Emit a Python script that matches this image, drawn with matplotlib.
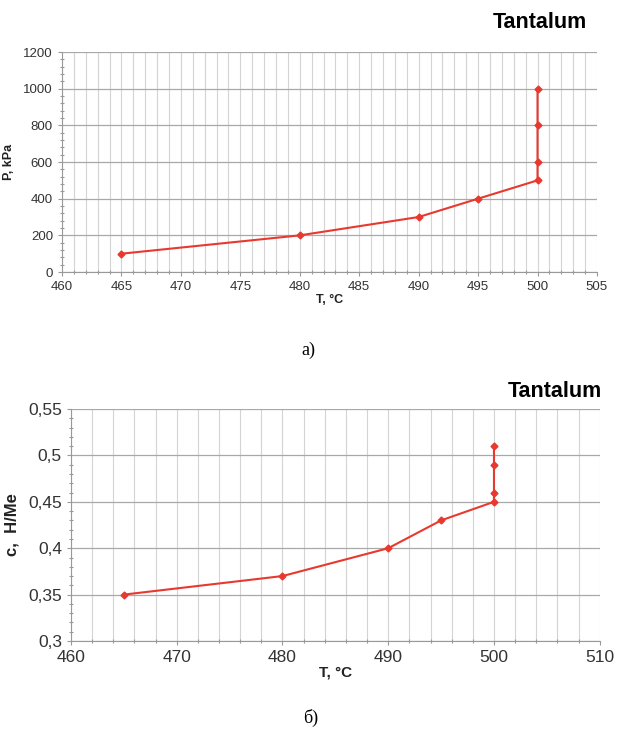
import numpy as np
import matplotlib
matplotlib.use("Agg")
import matplotlib.pyplot as plt
from matplotlib.ticker import MultipleLocator, FuncFormatter

plt.rcParams['font.family'] = ['Liberation Sans', 'DejaVu Sans']

# data
temp = [465, 480, 490, 495, 500, 500, 500, 500]
pressure = [100, 200, 300, 400, 500, 600, 800, 1000]
conc = [0.35, 0.37, 0.40, 0.43, 0.45, 0.46, 0.49, 0.51]

red = '#e8392f'
txt = '#333333'

fig = plt.figure(figsize=(6.17, 7.34), dpi=100)

# ---- a) pressure
ax1 = fig.add_axes([0.1005, 0.6294, 0.867, 0.2997])
ax1.plot(temp, pressure, color=red, lw=1.5, marker='D', ms=3.5, zorder=3)
ax1.set_xlim(460, 505)
ax1.set_ylim(0, 1200)
ax1.xaxis.set_major_locator(MultipleLocator(5))
ax1.xaxis.set_minor_locator(MultipleLocator(1))
ax1.yaxis.set_major_locator(MultipleLocator(200))
ax1.yaxis.set_minor_locator(MultipleLocator(40))
ax1.grid(which='major', axis='y', color='#a8a8a8', lw=0.9)
ax1.grid(which='both', axis='x', color='#d4d4d4', lw=0.8)
ax1.tick_params(which='both', length=3, color='#999999', labelsize=9.5, labelcolor=txt, width=0.8)
ax1.tick_params(which='minor', length=3, direction='inout')
for s in ['top', 'right']:
    ax1.spines[s].set_visible(False)
for s in ['left', 'bottom']:
    ax1.spines[s].set_color('#999999')
ax1.set_xlabel('T, °C', fontsize=9, fontweight='bold', labelpad=1, color='#222222')
ax1.set_ylabel('P, kPa', fontsize=9, fontweight='bold', labelpad=6, color='#222222')
fig.text(0.875, 0.970, 'Tantalum', fontsize=15.5, fontweight='bold', ha='center', va='center')
fig.text(0.5, 0.523, 'а)', fontsize=13, ha='center', va='center', family='Liberation Serif')

# ---- б) concentration
ax2 = fig.add_axes([0.115, 0.1267, 0.857, 0.316])
ax2.plot(temp, conc, color=red, lw=1.5, marker='D', ms=3.5, zorder=3)
ax2.set_xlim(460, 510)
ax2.set_ylim(0.3, 0.55)
ax2.xaxis.set_major_locator(MultipleLocator(10))
ax2.xaxis.set_minor_locator(MultipleLocator(2))
ax2.yaxis.set_major_locator(MultipleLocator(0.05))
ax2.yaxis.set_minor_locator(MultipleLocator(0.01))
ax2.yaxis.set_major_formatter(FuncFormatter(lambda v, p: f'{v:.2f}'.rstrip('0').replace('.', ',')))
ax2.grid(which='major', axis='y', color='#a8a8a8', lw=0.9)
ax2.grid(which='both', axis='x', color='#d4d4d4', lw=0.8)
ax2.tick_params(which='both', length=3, color='#999999', labelsize=12.5, labelcolor=txt, width=0.8)
ax2.tick_params(which='minor', length=3, direction='inout')
for s in ['top', 'right']:
    ax2.spines[s].set_visible(False)
for s in ['left', 'bottom']:
    ax2.spines[s].set_color('#999999')
ax2.set_xlabel('T, °C', fontsize=11, fontweight='bold', labelpad=0, color='#222222')
ax2.set_ylabel('c,  H/Me', fontsize=12, fontweight='bold', labelpad=6, color='#222222')
fig.text(0.900, 0.466, 'Tantalum', fontsize=15.5, fontweight='bold', ha='center', va='center')
fig.text(0.503, 0.022, 'б)', fontsize=13, ha='center', va='center', family='Liberation Serif')

plt.savefig('out.png', dpi=100)
